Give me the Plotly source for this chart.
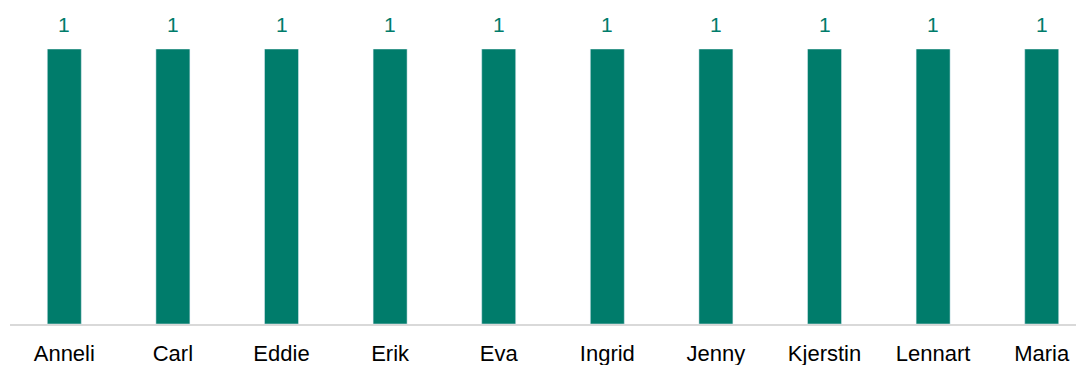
import plotly.graph_objects as go

names = ["Anneli", "Carl", "Eddie", "Erik", "Eva", "Ingrid", "Jenny", "Kjerstin", "Lennart", "Maria"]
counts = [1, 1, 1, 1, 1, 1, 1, 1, 1, 1]

teal = "#007C6B"

fig = go.Figure(
    go.Bar(
        x=names,
        y=counts,
        width=0.313,
        marker_color=teal,
    )
)

# value labels sit a bit higher above the bars than plotly's default outside text
for n, c in zip(names, counts):
    fig.add_annotation(
        x=n, y=c, text=str(c), showarrow=False,
        yanchor="bottom", yshift=11,
        font=dict(color=teal, size=21, family="Liberation Sans, Arial"),
    )

fig.update_layout(
    width=1084,
    height=365,
    margin=dict(l=2, r=0, t=41, b=49),
    plot_bgcolor="white",
    paper_bgcolor="white",
    showlegend=False,
    font=dict(family="Liberation Sans, Arial", size=22, color="#000000"),
)
fig.update_xaxes(
    range=[-0.5, 9.463],
    automargin=False,
    showline=True,
    linecolor="#d9d9d9",
    linewidth=2,
    ticks="",
    ticklabelstandoff=9,
    showgrid=False,
)
fig.update_yaxes(range=[0, 1], visible=False)

fig.write_html("out.html")
